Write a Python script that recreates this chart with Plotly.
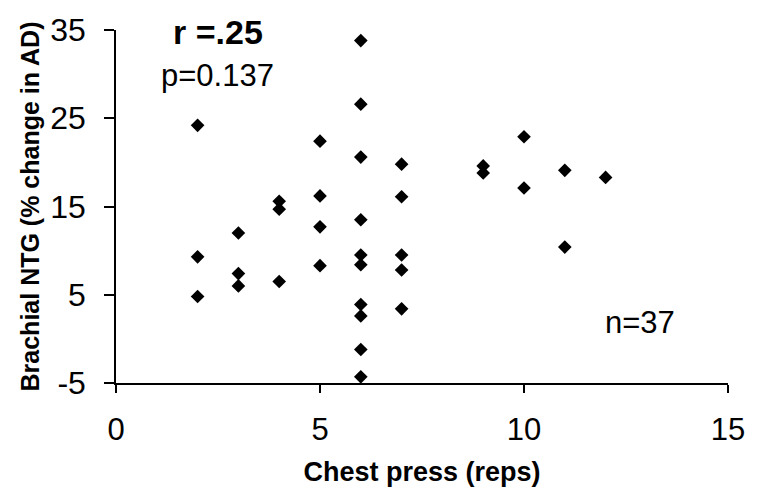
import plotly.graph_objects as go

# Chest press reps (x) and Brachial NTG % change in AD (y)
chest_press_reps = [2, 2, 2,
                    3, 3, 3,
                    4, 4, 4,
                    5, 5, 5, 5,
                    6, 6, 6, 6, 6, 6, 6, 6, 6, 6,
                    7, 7, 7, 7, 7,
                    9, 9,
                    10, 10,
                    11, 11,
                    12]
ntg_change = [24.2, 9.3, 4.8,
              12.0, 7.4, 6.0,
              15.6, 14.7, 6.5,
              22.4, 16.2, 12.7, 8.3,
              33.8, 26.6, 20.6, 13.5, 9.5, 8.4, 3.9, 2.6, -1.2, -4.3,
              19.8, 16.1, 9.5, 7.8, 3.4,
              19.6, 18.8,
              22.9, 17.1,
              19.1, 10.4,
              18.3]

x_ticks = [0, 5, 10, 15]
y_ticks = [-5, 5, 15, 25, 35]

FONT = "Liberation Sans, Arial, sans-serif"

fig = go.Figure()
fig.add_trace(go.Scatter(
    x=chest_press_reps, y=ntg_change, mode="markers",
    marker=dict(symbol="diamond", size=10.5, color="black"),
    showlegend=False, hoverinfo="skip",
))

fig.update_layout(
    width=757, height=498,
    margin=dict(l=116, r=21, t=23, b=115),
    paper_bgcolor="white", plot_bgcolor="white",
    font=dict(family=FONT, color="black"),
    xaxis=dict(
        range=[0, 15], tickvals=x_ticks, ticktext=[str(v) for v in x_ticks],
        showgrid=False, zeroline=False,
        showline=True, linecolor="black", linewidth=1.5,
        ticks="outside", ticklen=8, tickwidth=1.5, tickcolor="black",
        tickfont=dict(size=31, family=FONT), ticklabelstandoff=10,
        title=dict(text="<b>Chest press (reps)</b>", font=dict(size=27, family=FONT), standoff=16),
    ),
    yaxis=dict(
        range=[-5, 35], tickvals=y_ticks, ticktext=[str(v) for v in y_ticks],
        showgrid=False, zeroline=False,
        showline=True, linecolor="black", linewidth=1.5,
        ticks="outside", ticklen=10, tickwidth=1.5, tickcolor="black",
        tickfont=dict(size=32, family=FONT), ticklabelstandoff=12,
        title=dict(text="<b>Brachial NTG (% change in AD)</b>", font=dict(size=25, family=FONT), standoff=4),
    ),
    annotations=[
        dict(x=2.5, y=34.8, xref="x", yref="y", text="<b>r =.25</b>", showarrow=False,
             font=dict(size=34, family=FONT), xanchor="center", yanchor="middle"),
        dict(x=2.48, y=29.9, xref="x", yref="y", text="p=0.137", showarrow=False,
             font=dict(size=31, family=FONT), xanchor="center", yanchor="middle"),
        dict(x=12.84, y=1.9, xref="x", yref="y", text="n=37", showarrow=False,
             font=dict(size=31, family=FONT), xanchor="center", yanchor="middle"),
    ],
)

fig.write_html("out.html")
